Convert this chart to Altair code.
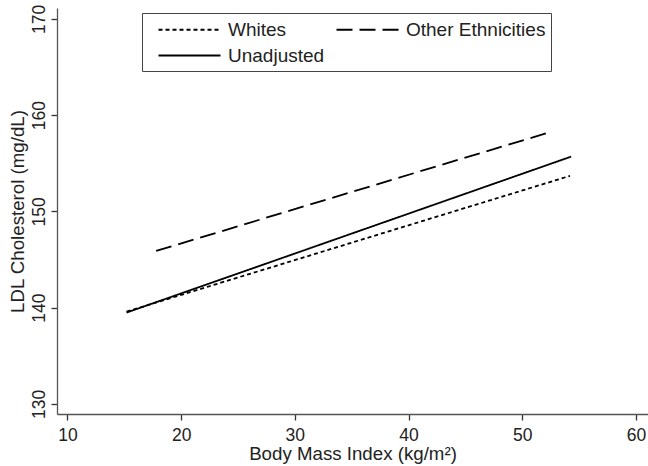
import altair as alt
import pandas as pd

# Data (two end points of each fitted line)
series = ["Whites", "Other Ethnicities", "Unadjusted"]
bmi_start = [15.2, 17.8, 15.2]
bmi_end = [54.2, 52.6, 54.3]
ldl_start = [139.6, 145.9, 139.5]
ldl_end = [153.7, 158.3, 155.7]
x_ticks = [10, 20, 30, 40, 50, 60]
y_ticks = [130, 140, 150, 160, 170]

rows = []
for s, x0, x1, y0, y1 in zip(series, bmi_start, bmi_end, ldl_start, ldl_end):
    rows.append({"series": s, "bmi": x0, "ldl": y0, "pt": 0})
    rows.append({"series": s, "bmi": x1, "ldl": y1, "pt": 1})
df = pd.DataFrame(rows)

FONT = "Liberation Sans"
TXT = "#222222"

chart = (
    alt.Chart(df)
    .mark_line(color="black", strokeWidth=1.8)
    .encode(
        x=alt.X(
            "bmi:Q",
            scale=alt.Scale(domain=[9.08, 61.06], nice=False, zero=False),
            axis=alt.Axis(
                values=x_ticks,
                title="Body Mass Index (kg/m²)",
                grid=False,
                tickSize=6,
                labelPadding=6,
                titlePadding=1,
                labelFontSize=17.5,
                titleFontSize=18.7,
                titleFontWeight="normal",
            ),
        ),
        y=alt.Y(
            "ldl:Q",
            scale=alt.Scale(domain=[128.96, 171.14], nice=False, zero=False),
            axis=alt.Axis(
                values=y_ticks,
                title="LDL Cholesterol (mg/dL)",
                grid=False,
                tickSize=6,
                labelAngle=270,
                labelAlign="center",
                labelBaseline="bottom",
                labelPadding=3,
                labelFontSize=17.5,
                titleFontSize=18.7,
                titleFontWeight="normal",
                titleX=-40,
                titleY=203,
                titleAngle=270,
                titleAlign="center",
                titleBaseline="middle",
            ),
        ),
        strokeDash=alt.StrokeDash(
            "series:N",
            scale=alt.Scale(domain=series, range=[[4, 3], [16, 7], [1, 0]]),
            legend=alt.Legend(
                title=None,
                orient="none",
                direction="horizontal",
                legendX=85,
                legendY=5,
                columns=2,
                columnPadding=0,
                rowPadding=4,
                padding=5,
                symbolOffset=31,
                symbolType="M-3,0H3",
                symbolSize=427,
                symbolStrokeWidth=2,
                symbolStrokeColor="black",
                symbolFillColor="transparent",
                labelOffset=27,
                labelFontSize=19,
                labelFont=FONT,
                labelColor=TXT,
                strokeColor="#444444",
                fillColor="white",
            ),
        ),
        order="pt:Q",
    )
    .properties(
        width=591,
        height=406,
        autosize=alt.AutoSizeParams(type="none"),
        padding={"left": 57, "top": 8, "right": 0, "bottom": 52},
    )
    .configure_view(stroke=None)
    .configure_axis(
        labelFont=FONT,
        titleFont=FONT,
        labelColor=TXT,
        titleColor=TXT,
        domainColor="#555555",
        domainWidth=1.3,
        tickColor="#333333",
        tickWidth=1.3,
    )
)

chart.save("out.html", embed_options={"renderer": "svg", "actions": False})
